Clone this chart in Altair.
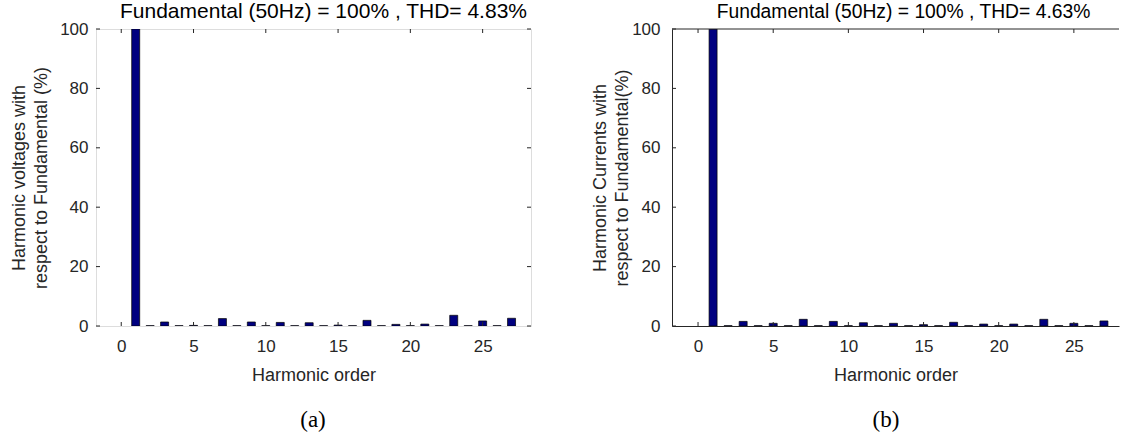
import altair as alt
import pandas as pd

orders = list(range(1, 28))
volt = [100, 0.1, 1.35, 0.1, 0.2, 0.1, 2.5, 0.1, 1.35, 0.1, 1.2, 0.1, 1.1, 0.1,
        0.3, 0.1, 1.9, 0.1, 0.55, 0.1, 0.65, 0.1, 3.6, 0.1, 1.7, 0.1, 2.6]
curr = [100, 0.1, 1.55, 0.1, 0.9, 0.1, 2.25, 0.1, 1.55, 0.1, 1.1, 0.1, 0.9, 0.1,
        0.45, 0.1, 1.25, 0.1, 0.65, 0.1, 0.65, 0.1, 2.25, 0.1, 0.9, 0.1, 1.7]
x_ticks = [0, 5, 10, 15, 20, 25]
y_ticks = [0, 20, 40, 60, 80, 100]
title_a = "Fundamental (50Hz) = 100% , THD= 4.83%"
title_b = "Fundamental (50Hz) = 100% , THD= 4.63%"
ytitle_a = ["Harmonic voltages with", "respect to Fundamental (%)"]
ytitle_b = ["Harmonic Currents with", "respect to Fundamental(%)"]
xtitle = "Harmonic order"

FONT = "Liberation Sans"
AX = "#262626"
H = 297


def panel(values, title, ytitle, caption, width, xmax, tsize, lsize, boxed,
          cap_x, ylpad, ytpad, tdx):
    df = pd.DataFrame({"order": orders, "value": values})
    xs = alt.Scale(domain=[-1.4, xmax], nice=False, zero=False)
    ys = alt.Scale(domain=[0, 100], nice=False)
    xaxis = alt.Axis(values=x_ticks, ticks=False, grid=False, domain=not boxed,
                     domainColor=AX, labelFont=FONT, labelFontSize=lsize,
                     labelColor=AX, labelPadding=12, title=xtitle, titleFont=FONT,
                     titleFontSize=lsize + 1, titleFontWeight="normal",
                     titleColor=AX, titlePadding=12, labelFlush=False)
    yaxis = alt.Axis(values=y_ticks, ticks=False, grid=False, domain=not boxed,
                     domainColor=AX, labelFont=FONT, labelFontSize=lsize,
                     labelColor=AX, labelPadding=ylpad, title=ytitle, titleFont=FONT,
                     titleFontSize=lsize + 1, titleFontWeight="normal",
                     titleColor=AX, titlePadding=ytpad, labelFlush=False,
                     titleLineHeight=22)
    bars = alt.Chart(df).mark_bar(size=8, color="#000080", stroke="#000000",
                                  strokeWidth=0.7, clip=True).encode(
        x=alt.X("order:Q", scale=xs, axis=xaxis),
        y=alt.Y("value:Q", scale=ys, axis=yaxis),
    )
    xt = pd.DataFrame({"order": x_ticks})
    yt = pd.DataFrame({"value": y_ticks})
    tb = alt.Chart(xt).mark_rule(color=AX, strokeWidth=1).encode(
        x=alt.X("order:Q", scale=xs), y=alt.value(H), y2=alt.value(H - 4))
    tt = alt.Chart(xt).mark_rule(color=AX, strokeWidth=1).encode(
        x=alt.X("order:Q", scale=xs), y=alt.value(0), y2=alt.value(4))
    tl = alt.Chart(yt).mark_rule(color=AX, strokeWidth=1).encode(
        y=alt.Y("value:Q", scale=ys), x=alt.value(0), x2=alt.value(4))
    layers = [bars, tb, tt, tl]
    if boxed:
        tr = alt.Chart(yt).mark_rule(color=AX, strokeWidth=1).encode(
            y=alt.Y("value:Q", scale=ys), x=alt.value(width), x2=alt.value(width - 4))
        layers.append(tr)
    else:
        top = alt.Chart(pd.DataFrame({"c": [caption]})).mark_rule(
            color=AX, strokeWidth=1).encode(x=alt.value(0), x2=alt.value(width),
                                            y=alt.value(0))
        layers.append(top)
    cap = alt.Chart(pd.DataFrame({"c": [caption]})).mark_text(
        font="Liberation Serif", fontSize=23, color="black").encode(
        x=alt.value(cap_x), y=alt.value(H + 94), text="c:N")
    layers.append(cap)
    ch = alt.layer(*layers).properties(
        width=width, height=H,
        title=alt.TitleParams(title, font=FONT, fontSize=tsize, fontWeight="normal",
                              color="black", offset=-2, anchor="middle", dx=tdx))
    if not boxed:
        ch = ch.properties(view=alt.ViewBackground(stroke="transparent"))
    return ch


left = panel(volt, title_a, ytitle_a, "(a)", 435, 28.0, 21, 17, True, 217, 8, 9, 10)
right = panel(curr, title_b, ytitle_b, "(b)", 447, 27.67, 19.3, 17, False, 214, 12, 0, 8)

chart = alt.hconcat(left, right, spacing=59).properties(
    padding={"left": 10, "top": 0, "right": 0, "bottom": 0}
).configure_view(stroke=AX, strokeWidth=1).configure(background="white")

chart.save("out.html", embed_options={"renderer": "svg", "actions": False})
